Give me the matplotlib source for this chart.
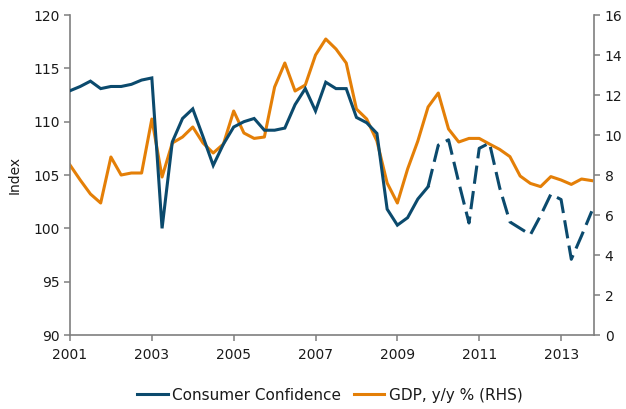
import matplotlib
matplotlib.use("Agg")
import matplotlib.pyplot as plt
import numpy as np

# Quarterly data 2001Q1 .. 2013Q4
consumer_confidence = [
    112.9, 113.3, 113.8, 113.1, 113.3, 113.3, 113.5, 113.9, 114.1, 100.0,
    108.1, 110.3, 111.2, 108.6, 105.9, 107.9, 109.5, 110.0, 110.3, 109.2,
    109.2, 109.4, 111.6, 113.1, 111.0, 113.7, 113.1, 113.1, 110.4, 109.9,
    108.9, 101.8, 100.3, 101.0, 102.75, 103.9, 107.8, 108.3, 104.3, 100.5,
    107.5, 108.0, 103.8, 100.6, 100.0, 99.4, 101.2, 103.2, 102.7, 97.1,
    99.3, 101.6,
]
gdp_yoy = [
    8.5, 7.75, 7.05, 6.6, 8.9, 8.0, 8.1, 8.1, 10.8, 7.9,
    9.6, 9.9, 10.4, 9.6, 9.1, 9.55, 11.2, 10.1, 9.83, 9.9,
    12.4, 13.6, 12.2, 12.5, 14.0, 14.8, 14.3, 13.6, 11.3, 10.8,
    9.7, 7.6, 6.6, 8.3, 9.7, 11.4, 12.1, 10.3, 9.65, 9.83,
    9.83, 9.55, 9.28, 8.92, 7.95, 7.58, 7.42, 7.92, 7.75, 7.53,
    7.8, 7.72,
]
year_ticks = [2001, 2003, 2005, 2007, 2009, 2011, 2013]
solid_end = 35  # last quarter of actual (solid) consumer confidence data

blue = "#0b4a6d"
orange = "#e47f07"
axis_grey = "#7f7f7f"

q = np.arange(len(consumer_confidence))
cc = np.array(consumer_confidence)

fig = plt.figure(figsize=(6.26, 4.09), dpi=100)
ax = fig.add_axes([0.1118, 0.1809, 0.9494 - 0.1118, 0.9633 - 0.1809])
ax2 = ax.twinx()

ax.plot(q[:solid_end + 1], cc[:solid_end + 1], color=blue, lw=2.2,
        solid_joinstyle="miter", label="Consumer Confidence", zorder=3)
ax.plot(q[solid_end:], cc[solid_end:], color=blue, lw=2.2,
        linestyle=(0, (6, 2.4)), zorder=3)
ax2.plot(q, gdp_yoy, color=orange, lw=2.2, label="GDP, y/y % (RHS)", zorder=2)

ax.set_zorder(ax2.get_zorder() + 1)
ax.patch.set_visible(False)

ax.set_xlim(0, 51.25)
ax.set_ylim(90, 120)
ax2.set_ylim(0, 16)
ax.set_yticks(np.arange(90, 121, 5))
ax2.set_yticks(np.arange(0, 17, 2))
ax.set_xticks([(y - 2001) * 4 for y in year_ticks])
ax.set_xticklabels([str(y) for y in year_ticks])
ax.set_ylabel("Index", fontsize=10, color="#1a1a1a", labelpad=8)

for a in (ax, ax2):
    for s in a.spines.values():
        s.set_color(axis_grey)
        s.set_linewidth(1.2)
    a.spines["top"].set_visible(False)
    a.tick_params(colors=axis_grey, labelcolor="#1a1a1a", labelsize=10,
                  length=4, width=1.1, direction="out")
ax.spines["right"].set_visible(False)
ax2.spines["left"].set_visible(False)
ax2.spines["bottom"].set_visible(False)
ax.tick_params(axis="x", pad=5)

h1, l1 = ax.get_legend_handles_labels()
h2, l2 = ax2.get_legend_handles_labels()
leg = fig.legend(h1[:1] + h2, l1[:1] + l2, loc="lower center", ncol=2, frameon=False,
                 fontsize=11, handlelength=2.0, columnspacing=0.8, handletextpad=0.3,
                 bbox_to_anchor=(0.527, -0.018))
for t in leg.get_texts():
    t.set_color("#1a1a1a")

fig.savefig("out.png", dpi=100)
